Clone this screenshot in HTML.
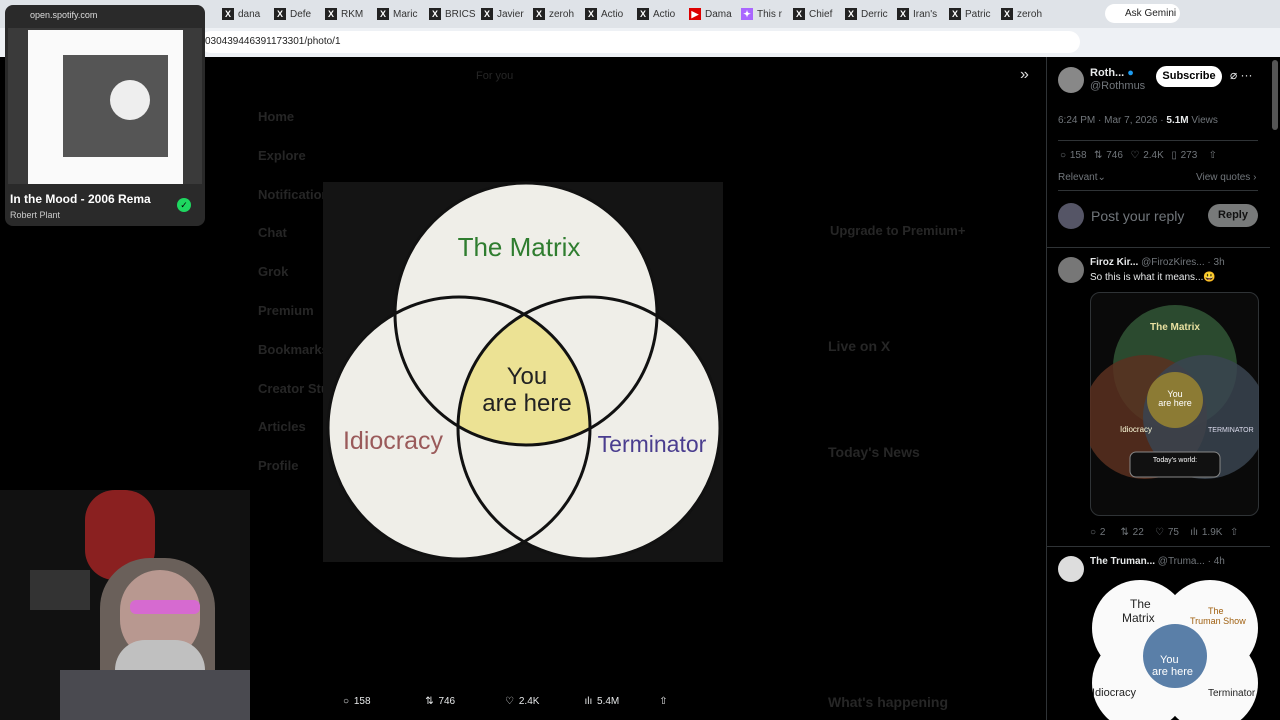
<!DOCTYPE html>
<html><head><meta charset="utf-8"><style>
*{margin:0;padding:0;box-sizing:border-box}
body{width:1280px;height:720px;overflow:hidden;background:#000;font-family:"Liberation Sans",sans-serif;position:relative}
.a{position:absolute}
.tab{position:absolute;top:6px;height:16px;font-size:10px;color:#333;display:flex;align-items:center;gap:4px}
.tab b{display:inline-block;width:12px;height:12px;background:#222;color:#fff;font-size:9px;text-align:center;line-height:12px}
.dim{color:#262626;font-size:13px}
.w{color:#e7e9ea}
.g{color:#71767b}
</style></head><body>
<div class="a" style="left:0;top:0;width:1280px;height:28px;background:#dfe3e8"></div>
<div class="a" style="left:0;top:28px;width:1280px;height:29px;background:#eef1f5"></div>
<div class="a" style="left:200px;top:31px;width:880px;height:22px;background:#fff;border-radius:11px"></div>
<div class="a" style="left:205px;top:36px;font-size:10px;color:#222">030439446391173301/photo/1</div>
<div class="tab" style="left:222px"><b>X</b>dana</div>
<div class="tab" style="left:274px"><b>X</b>Defe</div>
<div class="tab" style="left:325px"><b>X</b>RKM</div>
<div class="tab" style="left:377px"><b>X</b>Maric</div>
<div class="tab" style="left:429px"><b>X</b>BRICS</div>
<div class="tab" style="left:481px"><b>X</b>Javier</div>
<div class="tab" style="left:533px"><b>X</b>zeroh</div>
<div class="tab" style="left:585px"><b>X</b>Actio</div>
<div class="tab" style="left:637px"><b>X</b>Actio</div>
<div class="tab" style="left:689px"><b style="background:#d00">▶</b>Dama</div>
<div class="tab" style="left:741px"><b style="background:#a6f">✦</b>This r</div>
<div class="tab" style="left:793px"><b>X</b>Chief</div>
<div class="tab" style="left:845px"><b>X</b>Derric</div>
<div class="tab" style="left:897px"><b>X</b>Iran's</div>
<div class="tab" style="left:949px"><b>X</b>Patric</div>
<div class="tab" style="left:1001px"><b>X</b>zeroh</div>
<div class="a" style="left:1105px;top:4px;width:75px;height:19px;background:#fff;border-radius:10px;font-size:10px;line-height:19px;padding-left:20px;color:#222">Ask Gemini</div>

<div class="a dim" style="left:258px;top:98px;line-height:38.8px;font-size:13px;font-weight:bold">Home<br>Explore<br>Notifications<br>Chat<br>Grok<br>Premium<br>Bookmarks<br>Creator Studio<br>Articles<br>Profile</div>
<div class="a dim" style="left:476px;top:70px;font-size:11px">For you</div>
<div class="a dim" style="left:830px;top:222px;font-size:13px;font-weight:bold;line-height:1.4">Upgrade to Premium+</div>
<div class="a dim" style="left:828px;top:338px;font-size:14px;font-weight:bold">Live on X</div>
<div class="a dim" style="left:828px;top:444px;font-size:14px;font-weight:bold">Today's News</div>
<div class="a dim" style="left:828px;top:694px;font-size:14px;font-weight:bold">What's happening</div>
<div class="a" style="left:1020px;top:66px;color:#ddd;font-size:16px">»</div>

<div class="a" style="left:323px;top:182px;width:400px;height:380px;background:#141414"></div>
<svg class="a" style="left:0;top:0" width="1280" height="720">
<defs>
<clipPath id="c1"><circle cx="526" cy="314" r="131"/></clipPath>
<clipPath id="c2"><circle cx="459" cy="428" r="131"/></clipPath>
</defs>
<circle cx="526" cy="314" r="131" fill="#efeee8"/>
<circle cx="459" cy="428" r="131" fill="#efeee8"/>
<circle cx="589" cy="428" r="131" fill="#efeee8"/>
<g clip-path="url(#c1)"><g clip-path="url(#c2)"><circle cx="589" cy="428" r="131" fill="#ece294"/></g></g>
<g fill="none" stroke="#111" stroke-width="3">
<circle cx="526" cy="314" r="131"/><circle cx="459" cy="428" r="131"/><circle cx="589" cy="428" r="131"/></g>
<text x="519" y="256" font-size="26" fill="#2f7d2f" text-anchor="middle" font-family="Liberation Sans">The Matrix</text>
<text x="393" y="449" font-size="25" fill="#9a5a5a" text-anchor="middle" font-family="Liberation Sans">Idiocracy</text>
<text x="652" y="452" font-size="23" fill="#4a3d8f" text-anchor="middle" font-family="Liberation Sans">Terminator</text>
<text x="527" y="384" font-size="24" fill="#222" text-anchor="middle" font-family="Liberation Sans">You</text>
<text x="527" y="411" font-size="24" fill="#222" text-anchor="middle" font-family="Liberation Sans">are here</text>
</svg>

<div class="a w" style="left:343px;top:696px;font-size:10px;word-spacing:2px">○ 158 <span style="margin-left:50px">⇅ 746</span><span style="margin-left:50px">♡ 2.4K</span><span style="margin-left:45px">ılı 5.4M</span><span style="margin-left:40px">⇧</span></div>

<div class="a" style="left:5px;top:5px;width:200px;height:221px;background:#2a2a2a;border-radius:8px"></div>
<div class="a" style="left:30px;top:10px;font-size:9px;color:#ddd">open.spotify.com</div>
<div class="a" style="left:8px;top:28px;width:194px;height:156px;background:#3a3a3a"></div>
<div class="a" style="left:28px;top:30px;width:155px;height:154px;background:#fafafa"></div>
<div class="a" style="left:63px;top:55px;width:105px;height:102px;background:#555"></div>
<div class="a" style="left:110px;top:80px;width:40px;height:40px;background:#eee;border-radius:50%"></div>
<div class="a" style="left:10px;top:192px;font-size:12px;font-weight:bold;color:#fff">In the Mood - 2006 Rema</div>
<div class="a" style="left:10px;top:210px;font-size:9px;color:#ccc">Robert Plant</div>
<div class="a" style="left:177px;top:198px;width:14px;height:14px;border-radius:50%;background:#1ed760;color:#000;font-size:9px;text-align:center;line-height:14px">✓</div>

<div class="a" style="left:0;top:490px;width:250px;height:230px;background:#111;overflow:hidden">
<div class="a" style="left:85px;top:0;width:70px;height:90px;background:#8a2020;border-radius:30px"></div>
<div class="a" style="left:30px;top:80px;width:60px;height:40px;background:#333"></div>
<div class="a" style="left:100px;top:68px;width:115px;height:170px;background:#6a605a;border-radius:50px 50px 10px 10px"></div>
<div class="a" style="left:120px;top:80px;width:80px;height:90px;background:#b89890;border-radius:40px"></div>
<div class="a" style="left:130px;top:110px;width:70px;height:14px;background:#d66ad0;border-radius:6px"></div>
<div class="a" style="left:115px;top:150px;width:90px;height:80px;background:#c0c0c0;border-radius:30px 30px 0 0"></div>
<div class="a" style="left:60px;top:180px;width:190px;height:50px;background:#4a4a50"></div>
</div>

<div class="a" style="left:1046px;top:57px;width:1px;height:663px;background:#2f3336"></div>
<div class="a" style="left:1058px;top:67px;width:26px;height:26px;border-radius:50%;background:#888"></div>
<div class="a w" style="left:1090px;top:67px;font-size:11px;font-weight:bold">Roth... <span style="color:#1d9bf0">●</span></div>
<div class="a g" style="left:1090px;top:80px;font-size:11px">@Rothmus</div>
<div class="a" style="left:1156px;top:66px;width:66px;height:21px;background:#fff;border-radius:11px;font-size:11px;font-weight:bold;text-align:center;line-height:21px">Subscribe</div>
<div class="a w" style="left:1230px;top:68px;font-size:12px">⌀ ···</div>
<div class="a g" style="left:1058px;top:115px;font-size:10px">6:24 PM · Mar 7, 2026 · <b class="w">5.1M</b> Views</div>
<div class="a" style="left:1058px;top:140px;width:200px;height:1px;background:#2f3336"></div>
<div class="a g" style="left:1060px;top:150px;font-size:10px;word-spacing:1px">○ 158 &nbsp;⇅ 746 &nbsp;♡ 2.4K &nbsp;▯ 273 &nbsp;&nbsp;⇧</div>
<div class="a g" style="left:1058px;top:172px;font-size:10px">Relevant⌄</div>
<div class="a g" style="left:1196px;top:172px;font-size:10px">View quotes ›</div>
<div class="a" style="left:1058px;top:190px;width:200px;height:1px;background:#2f3336"></div>
<div class="a" style="left:1058px;top:203px;width:26px;height:26px;border-radius:50%;background:#556"></div>
<div class="a g" style="left:1091px;top:208px;font-size:14px">Post your reply</div>
<div class="a" style="left:1208px;top:204px;width:50px;height:23px;background:#787a7a;border-radius:12px;font-size:11px;font-weight:bold;text-align:center;line-height:23px;color:#111">Reply</div>
<div class="a" style="left:1047px;top:247px;width:223px;height:1px;background:#2f3336"></div>
<div class="a" style="left:1058px;top:257px;width:26px;height:26px;border-radius:50%;background:#777"></div>
<div class="a w" style="left:1090px;top:257px;font-size:10px"><b>Firoz Kir...</b> <span class="g">@FirozKires... · 3h</span></div>
<div class="a w" style="left:1090px;top:272px;font-size:10px">So this is what it means...😃</div>
<div class="a" style="left:1090px;top:292px;width:169px;height:224px;border:1px solid #2f3336;border-radius:10px;background:#0a0a0a"></div>
<svg class="a" style="left:1090px;top:292px" width="169" height="224">
<circle cx="85" cy="75" r="62" fill="#2b4a2f"/><circle cx="55" cy="125" r="62" fill="#5a3020" opacity=".85"/><circle cx="115" cy="125" r="62" fill="#3a4450" opacity=".85"/>
<circle cx="85" cy="108" r="28" fill="#a08a30" opacity=".8"/>
<text x="85" y="38" font-size="10" fill="#e8e0a0" text-anchor="middle" font-weight="bold">The Matrix</text>
<text x="85" y="105" font-size="9" fill="#fff" text-anchor="middle">You</text><text x="85" y="114" font-size="9" fill="#fff" text-anchor="middle">are here</text>
<text x="30" y="140" font-size="8" fill="#ffd" >Idiocracy</text><text x="118" y="140" font-size="7" fill="#dde">TERMINATOR</text>
<rect x="40" y="160" width="90" height="25" rx="6" fill="#111" stroke="#888"/>
<text x="85" y="170" font-size="7" fill="#fff" text-anchor="middle">Today's world:</text>
</svg>
<div class="a g" style="left:1090px;top:527px;font-size:10px;word-spacing:1px">○ 2 &nbsp;&nbsp;&nbsp;⇅ 22 &nbsp;&nbsp;♡ 75 &nbsp;&nbsp;ılı 1.9K &nbsp;⇧</div>
<div class="a" style="left:1047px;top:546px;width:223px;height:1px;background:#2f3336"></div>
<div class="a" style="left:1058px;top:556px;width:26px;height:26px;border-radius:50%;background:#ddd"></div>
<div class="a w" style="left:1090px;top:556px;font-size:10px"><b>The Truman...</b> <span class="g">@Truma... · 4h</span></div>
<svg class="a" style="left:1090px;top:578px" width="169" height="142">
<rect width="169" height="142" fill="#000"/>
<circle cx="50" cy="50" r="48" fill="#fafafa"/><circle cx="120" cy="50" r="48" fill="#fafafa"/>
<circle cx="50" cy="105" r="48" fill="#fafafa"/><circle cx="120" cy="105" r="48" fill="#fafafa"/>
<circle cx="85" cy="78" r="32" fill="#5a7fa8"/>
<text x="40" y="30" font-size="12" fill="#222">The</text><text x="32" y="44" font-size="12" fill="#222">Matrix</text>
<text x="118" y="36" font-size="9" fill="#a06010">The</text><text x="100" y="46" font-size="9" fill="#a06010">Truman Show</text>
<text x="70" y="85" font-size="11" fill="#fff">You</text><text x="62" y="97" font-size="11" fill="#fff">are here</text>
<text x="2" y="118" font-size="11" fill="#222">Idiocracy</text><text x="118" y="118" font-size="10" fill="#222">Terminator</text>
</svg>
<div class="a" style="left:1272px;top:60px;width:6px;height:70px;background:#555;border-radius:3px"></div>
</body></html>
